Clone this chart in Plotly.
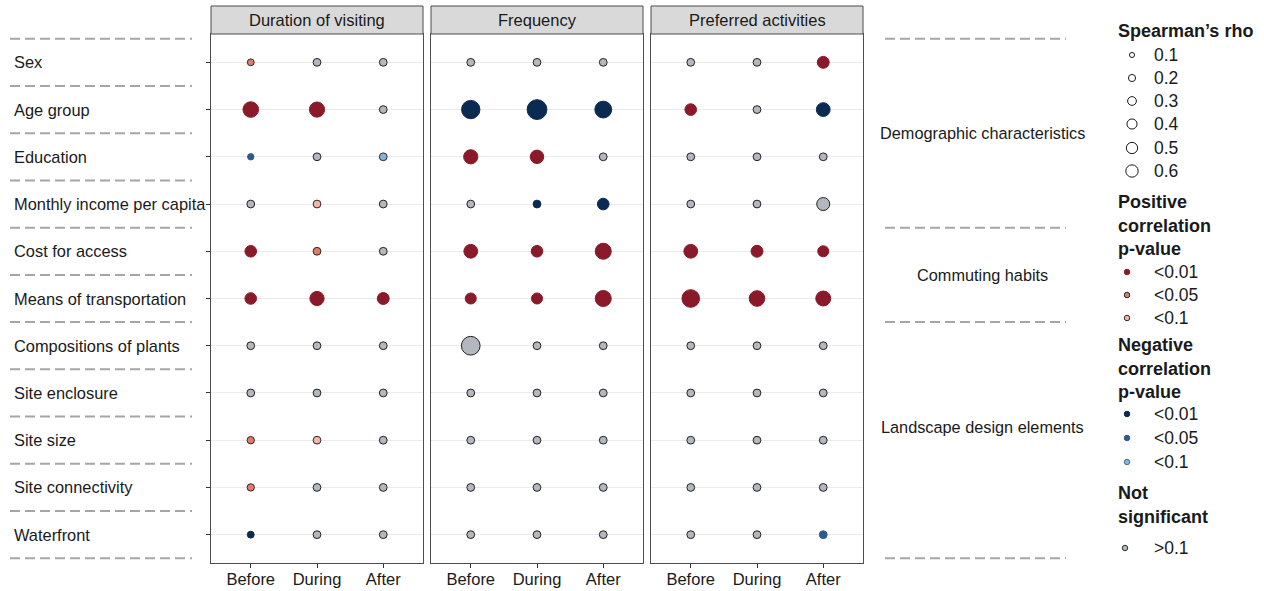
import math
import plotly.graph_objects as go

# ---- data -----------------------------------------------------------------
factors = [
    "Sex", "Age group", "Education", "Monthly income per capita",
    "Cost for access", "Means of transportation", "Compositions of plants",
    "Site enclosure", "Site size", "Site connectivity", "Waterfront",
]
periods = ["Before", "During", "After"]
outcomes = ["Duration of visiting", "Frequency", "Preferred activities"]
groups = ["Demographic characteristics", "Commuting habits", "Landscape design elements"]
group_sizes = [4, 2, 5]

# |Spearman's rho| per factor (rows) and period (Before, During, After)
rho_duration = [
    [0.07, 0.09, 0.09],
    [0.36, 0.34, 0.09],
    [0.06, 0.09, 0.09],
    [0.09, 0.09, 0.09],
    [0.20, 0.09, 0.09],
    [0.20, 0.30, 0.21],
    [0.09, 0.09, 0.09],
    [0.09, 0.09, 0.09],
    [0.08, 0.09, 0.09],
    [0.08, 0.09, 0.09],
    [0.07, 0.09, 0.09],
]
rho_frequency = [
    [0.09, 0.09, 0.09],
    [0.50, 0.58, 0.42],
    [0.30, 0.27, 0.09],
    [0.09, 0.09, 0.20],
    [0.28, 0.20, 0.38],
    [0.18, 0.18, 0.38],
    [0.52, 0.09, 0.09],
    [0.09, 0.09, 0.09],
    [0.09, 0.09, 0.09],
    [0.09, 0.09, 0.09],
    [0.09, 0.09, 0.09],
]
rho_activities = [
    [0.09, 0.09, 0.21],
    [0.20, 0.09, 0.28],
    [0.09, 0.09, 0.09],
    [0.09, 0.09, 0.25],
    [0.28, 0.21, 0.18],
    [0.46, 0.36, 0.33],
    [0.09, 0.09, 0.09],
    [0.09, 0.09, 0.09],
    [0.09, 0.09, 0.09],
    [0.09, 0.09, 0.09],
    [0.09, 0.09, 0.09],
]

# significance class: P = positive, N = negative, 1/5/10 = p<0.01/0.05/0.1, NS = >0.1
sig_duration = [
    ["P5", "NS", "NS"],
    ["P1", "P1", "NS"],
    ["N5", "NS", "N10"],
    ["NS", "P10", "NS"],
    ["P1", "P5", "NS"],
    ["P1", "P1", "P1"],
    ["NS", "NS", "NS"],
    ["NS", "NS", "NS"],
    ["P5", "P10", "NS"],
    ["P5", "NS", "NS"],
    ["N1", "NS", "NS"],
]
sig_frequency = [
    ["NS", "NS", "NS"],
    ["N1", "N1", "N1"],
    ["P1", "P1", "NS"],
    ["NS", "N1", "N1"],
    ["P1", "P1", "P1"],
    ["P1", "P1", "P1"],
    ["NS", "NS", "NS"],
    ["NS", "NS", "NS"],
    ["NS", "NS", "NS"],
    ["NS", "NS", "NS"],
    ["NS", "NS", "NS"],
]
sig_activities = [
    ["NS", "NS", "P1"],
    ["P1", "NS", "N1"],
    ["NS", "NS", "NS"],
    ["NS", "NS", "NS"],
    ["P1", "P1", "P1"],
    ["P1", "P1", "P1"],
    ["NS", "NS", "NS"],
    ["NS", "NS", "NS"],
    ["NS", "NS", "NS"],
    ["NS", "NS", "NS"],
    ["NS", "NS", "N5"],
]

rho_all = [rho_duration, rho_frequency, rho_activities]
sig_all = [sig_duration, sig_frequency, sig_activities]

size_levels = [0.1, 0.2, 0.3, 0.4, 0.5, 0.6]
p_labels = ["<0.01", "<0.05", "<0.1"]
positive_classes = ["P1", "P5", "P10"]
negative_classes = ["N1", "N5", "N10"]

# ---- styling --------------------------------------------------------------
W, H = 1264, 591
FONT = "Liberation Sans, Arial, Helvetica, sans-serif"
TEXT = "#1a1a1a"
FRAME = "#4d4d4d"
DASH = "#a6a6a6"

sig_fill = {
    "P1": "#8a1a2a", "P5": "#e27c68", "P10": "#f6b6a6",
    "N1": "#0b2a52", "N5": "#2c5b8c", "N10": "#82b4dc",
    "NS": "#b3b7be",
}
sig_line = {
    "P1": "#8a1a2a", "P5": "#2b2b2b", "P10": "#2b2b2b",
    "N1": "#0b2a52", "N5": "#2c5b8c", "N10": "#2b2b2b",
    "NS": "#222222",
}
DATA_SIZE = 26.0     # marker diameter (px) per sqrt(rho)
KEY_SIZE = 16.0      # legend key diameter (px) per sqrt(rho)

panel_px = [(211, 423), (431, 643), (651, 863)]
strip_top, panel_top, panel_bottom = 6, 34, 563
n_rows = len(factors)
y_range = [n_rows + 0.6, 0.4]
ydom = [1 - panel_bottom / H, 1 - panel_top / H]


def px(x):
    return x / W


def py(y):
    return 1 - y / H


def row_to_paper(v):
    return ydom[0] + (y_range[0] - v) / (y_range[0] - y_range[1]) * (ydom[1] - ydom[0])


fig = go.Figure()
shapes, annotations = [], []

for k, (outcome, rho, sig) in enumerate(zip(outcomes, rho_all, sig_all)):
    sfx = "" if k == 0 else str(k + 1)
    xs, ys, sizes, fills, lines = [], [], [], [], []
    for i in range(n_rows):
        for j in range(len(periods)):
            xs.append(j + 1)
            ys.append(i + 1)
            sizes.append(DATA_SIZE * math.sqrt(rho[i][j]))
            fills.append(sig_fill[sig[i][j]])
            lines.append(sig_line[sig[i][j]])
    fig.add_trace(go.Scatter(
        x=xs, y=ys, mode="markers", xaxis="x" + sfx, yaxis="y" + sfx,
        marker=dict(size=sizes, color=fills, line=dict(color=lines, width=1), opacity=1),
        cliponaxis=False, showlegend=False, hoverinfo="skip",
    ))
    x0, x1 = panel_px[k]
    fig.update_layout(**{
        "xaxis" + sfx: dict(
            domain=[px(x0), px(x1)], range=[0.4, 3.6], anchor="y" + sfx,
            tickvals=[1, 2, 3], ticktext=periods, ticks="outside", ticklen=4,
            tickcolor="#333333", tickfont=dict(size=16.5, color=TEXT, family=FONT),
            ticklabelstandoff=-3,
            showline=True, mirror=True, linecolor=FRAME, linewidth=1,
            showgrid=False, zeroline=False, fixedrange=True,
        ),
        "yaxis" + sfx: dict(
            domain=ydom, range=y_range, anchor="x" + sfx,
            tickvals=list(range(1, n_rows + 1)), showticklabels=False,
            ticks="outside" if k == 0 else "", ticklen=4, tickcolor="#333333",
            showline=True, mirror=True, linecolor=FRAME, linewidth=1,
            showgrid=True, gridcolor="#ebebeb", gridwidth=1.3,
            zeroline=False, fixedrange=True,
        ),
    })
    # facet strip
    shapes.append(dict(type="rect", xref="paper", yref="paper",
                       x0=px(x0), x1=px(x1), y0=py(panel_top), y1=py(strip_top),
                       fillcolor="#d9d9d9", line=dict(color=FRAME, width=1)))
    annotations.append(dict(xref="paper", yref="paper", x=px((x0 + x1) / 2),
                            y=py((strip_top + panel_top) / 2), text=outcome,
                            showarrow=False, xanchor="center", yanchor="middle",
                            font=dict(size=16.5, color=TEXT, family=FONT)))

# row labels with dashed separators on the left
for i, f in enumerate(factors):
    annotations.append(dict(xref="paper", yref="paper", x=px(12), y=row_to_paper(i + 1),
                            text=f, showarrow=False, xanchor="left", yanchor="middle",
                            font=dict(size=16.4, color=TEXT, family=FONT)))
for b in range(n_rows + 1):
    yy = row_to_paper(b + 0.5)
    shapes.append(dict(type="line", xref="paper", yref="paper", x0=px(10), x1=px(192),
                       y0=yy, y1=yy, line=dict(color=DASH, width=2, dash="10px,5px")))

# factor groups on the right
bounds = [0.5]
for g in group_sizes:
    bounds.append(bounds[-1] + g)
for bnd in bounds:
    yy = row_to_paper(bnd)
    shapes.append(dict(type="line", xref="paper", yref="paper", x0=px(885), x1=px(1066),
                       y0=yy, y1=yy, line=dict(color=DASH, width=2, dash="10px,5px")))
group_label_rows = [2.5, 5.5, 8.72]
for g, r in zip(groups, group_label_rows):
    annotations.append(dict(xref="paper", yref="paper", x=px(982), y=row_to_paper(r),
                            text=g, showarrow=False, xanchor="center", yanchor="middle",
                            font=dict(size=16.3, color=TEXT, family=FONT)))


# ---- legend ----------------------------------------------------------------
def legend_title(text, y):
    annotations.append(dict(xref="paper", yref="paper", x=px(1116), y=py(y), text="<b>" + text + "</b>",
                            showarrow=False, xanchor="left", yanchor="middle",
                            font=dict(size=18, color=TEXT, family=FONT)))


def legend_label(text, y):
    annotations.append(dict(xref="paper", yref="paper", x=px(1152), y=py(y), text=text,
                            showarrow=False, xanchor="left", yanchor="middle",
                            font=dict(size=17.5, color=TEXT, family=FONT)))


def legend_dot(cx, cy, d, fill, line):
    r = d / 2
    shapes.append(dict(type="circle", xref="paper", yref="paper",
                       x0=px(cx - r), x1=px(cx + r), y0=py(cy + r), y1=py(cy - r),
                       fillcolor=fill, line=dict(color=line, width=1)))


legend_title("Spearman\u2019s rho", 31)
for lvl, y in zip(size_levels, [55, 78, 101, 124, 148, 171]):
    legend_dot(1132, y, KEY_SIZE * math.sqrt(lvl), "rgba(0,0,0,0)", "#1a1a1a")
    legend_label(f"{lvl:.1f}", y)

for line_text, y in zip(["Positive", "correlation", "p-value"], [202, 226, 249]):
    legend_title(line_text, y)
for cls, lab, y in zip(positive_classes, p_labels, [272, 295, 318]):
    legend_dot(1127, y, 5.5, sig_fill[cls], sig_line[cls] if cls != "P1" else sig_fill[cls])
    legend_label(lab, y)

for line_text, y in zip(["Negative", "correlation", "p-value"], [345, 369, 392]):
    legend_title(line_text, y)
for cls, lab, y in zip(negative_classes, p_labels, [414, 438, 462]):
    legend_dot(1127, y, 5.5, sig_fill[cls], sig_line[cls] if cls != "N10" else "#4a6f92")
    legend_label(lab, y)

for line_text, y in zip(["Not", "significant"], [493, 517]):
    legend_title(line_text, y)
legend_dot(1125, 548, 5.5, sig_fill["NS"], "#333333")
legend_label(">0.1", 548)

fig.update_layout(
    width=W, height=H, autosize=False,
    margin=dict(l=0, r=0, t=0, b=0, pad=0),
    paper_bgcolor="white", plot_bgcolor="rgba(0,0,0,0)",
    font=dict(family=FONT, color=TEXT),
    shapes=shapes, annotations=annotations, showlegend=False,
)

fig.write_html("out.html")
